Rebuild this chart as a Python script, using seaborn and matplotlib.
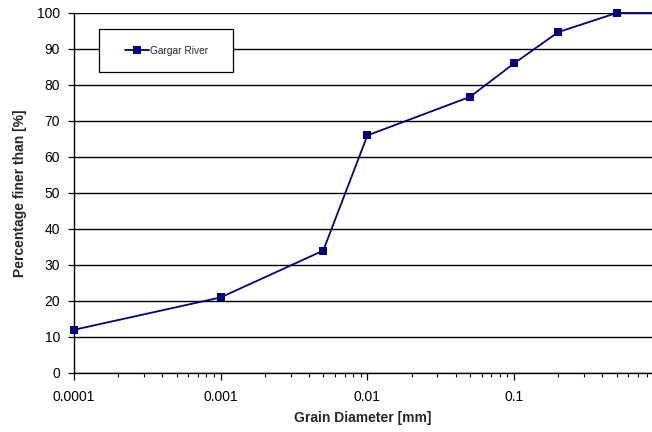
import matplotlib
matplotlib.use("Agg")
import matplotlib.pyplot as plt
import matplotlib.ticker as mticker
from matplotlib.patches import Rectangle
import seaborn as sns
import pandas as pd
import numpy as np

diameter = [0.0001, 0.001, 0.005, 0.01, 0.05, 0.1, 0.2, 0.5, 1.0]
percent_finer = [12, 21, 34, 66, 76.7, 86, 94.7, 100, 100]
series_name = "Gargar River"

df = pd.DataFrame({"d": diameter, "p": percent_finer, "s": series_name})

sns.set_style("ticks")
plt.rcParams["font.family"] = ["Liberation Sans", "DejaVu Sans"]

fig = plt.figure(figsize=(6.52, 4.32), dpi=100)
ax = fig.add_axes([74 / 652, 59 / 432, 578 / 652, 360 / 432])

sns.lineplot(data=df, x="d", y="p", hue="s", palette=["#000080"], marker="s",
             markersize=5.5, markeredgewidth=0, linewidth=1.3, ax=ax)
for ln in ax.lines:
    ln.set_clip_on(False)
    ln.set_zorder(5)

ax.set_xscale("log")
ax.set_xlim(1e-4, 10 ** (-4 + 578 / 146.7))
ax.set_ylim(0, 100)
ax.set_yticks(np.arange(0, 101, 10))
ax.xaxis.set_major_locator(mticker.FixedLocator([1e-4, 1e-3, 1e-2, 1e-1]))
ax.xaxis.set_major_formatter(mticker.FixedFormatter(["0.0001", "0.001", "0.01", "0.1"]))
ax.xaxis.set_minor_locator(mticker.LogLocator(base=10, subs=np.arange(2, 10)))
ax.xaxis.set_minor_formatter(mticker.NullFormatter())

ax.yaxis.grid(True, color="black", linewidth=1.0)
ax.xaxis.grid(False)
ax.set_axisbelow(True)
for s in ["top", "right"]:
    ax.spines[s].set_visible(False)
for s in ["left", "bottom"]:
    ax.spines[s].set_color("black")
    ax.spines[s].set_linewidth(1.0)

ax.tick_params(axis="both", which="major", labelsize=10, colors="black", length=4, width=0.9, direction="out", pad=6)
ax.tick_params(axis="x", which="minor", length=3, width=0.8, color="black")
ax.tick_params(axis="x", which="major", length=5, pad=7)

ax.set_xlabel("Grain Diameter [mm]", fontsize=10, fontweight="bold", labelpad=5)
ax.set_ylabel("Percentage finer than [%]", fontsize=10, fontweight="bold", labelpad=7)

# legend frame and content
ax.add_patch(Rectangle((25 / 578, 301 / 360), 134 / 578, 43 / 360, transform=ax.transAxes,
                       facecolor="white", edgecolor="black", linewidth=0.9, zorder=6))
leg = ax.legend(loc="center left", bbox_to_anchor=(51 / 578, 322 / 360), fontsize=7.3,
                frameon=False, borderpad=0, handlelength=2.4,
                handletextpad=0.1, borderaxespad=0)
leg.set_zorder(7)

fig.savefig("out.png", dpi=100)
